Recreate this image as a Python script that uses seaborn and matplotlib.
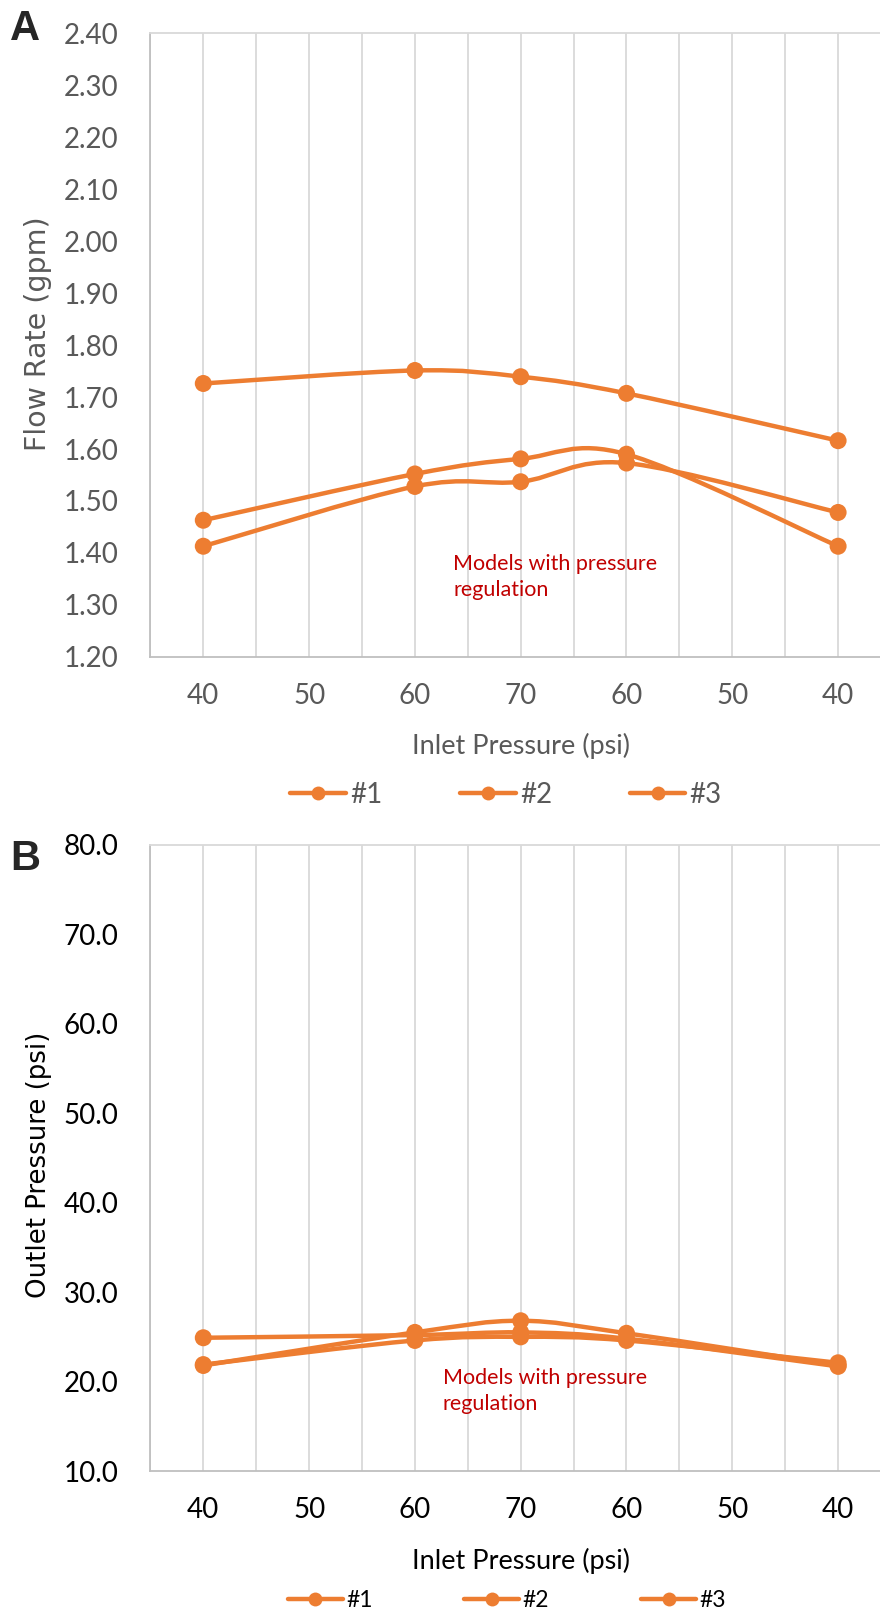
import numpy as np
import pandas as pd
import matplotlib
matplotlib.use("Agg")
import matplotlib.pyplot as plt
from matplotlib.path import Path
from matplotlib.patches import PathPatch
from matplotlib.lines import Line2D
import seaborn as sns

# category axis (inlet pressure up then down)
x_labels = ["40", "50", "60", "70", "60", "50", "40"]
# category index where readings were taken
point_cats = [0, 2, 3, 4, 6]
series_names = ["#1", "#2", "#3"]

# panel A: flow rate (gpm)
flow_1 = [1.726, 1.751, 1.739, 1.707, 1.616]
flow_2 = [1.463, 1.552, 1.581, 1.590, 1.413]
flow_3 = [1.413, 1.528, 1.537, 1.573, 1.478]

# panel B: outlet pressure (psi)
outlet_1 = [24.9, 25.2, 25.5, 24.8, 21.7]
outlet_2 = [21.8, 25.5, 26.8, 25.4, 21.8]
outlet_3 = [21.9, 24.6, 25.0, 24.6, 22.1]

ORANGE = "#ED7D31"
NOTE_RED = "#C00000"


def make_df(values):
    rows = []
    for name, vals in zip(series_names, values):
        for c, v in zip(point_cats, vals):
            rows.append({"series": name, "cat": c, "value": v})
    return pd.DataFrame(rows)


def smooth_path(xs, ys):
    # excel-like smoothed line: cubic bezier through the points
    pts = np.column_stack([xs, ys]).astype(float)
    n = len(pts)
    verts = [pts[0]]
    codes = [Path.MOVETO]
    for i in range(n - 1):
        p0 = pts[i - 1] if i > 0 else pts[i]
        p1 = pts[i]
        p2 = pts[i + 1]
        p3 = pts[i + 2] if i + 2 < n else pts[i + 1]
        c1 = p1 + (p2 - p0) / 6.0
        c2 = p2 - (p3 - p1) / 6.0
        verts += [c1, c2, p2]
        codes += [Path.CURVE4] * 3
    return Path(verts, codes)


def draw_panel(ax, df, ylim, yticks, fmt, color, ylabel, ylabel_size,
               ylabel_pos, note_x):
    for name in series_names:
        d = df[df["series"] == name]
        patch = PathPatch(smooth_path(d["cat"], d["value"]), fill=False,
                          edgecolor=ORANGE, lw=3.2, capstyle="round",
                          joinstyle="round", zorder=3)
        ax.add_patch(patch)
    sns.scatterplot(data=df, x="cat", y="value", hue="series",
                    palette=[ORANGE] * 3, s=150, linewidth=0,
                    legend=False, ax=ax, zorder=4)

    ax.set_xlim(-0.5, 6.5)
    ax.set_ylim(*ylim)
    ax.set_yticks(yticks)
    ax.set_yticklabels([fmt.format(t) for t in yticks])
    ax.set_xticks(range(len(x_labels)))
    ax.set_xticklabels(x_labels)
    ax.set_xticks(np.arange(-0.5, 7, 1.0), minor=True)
    ax.grid(True, axis="x", which="both", color="#D9D9D9", lw=1.3, zorder=0)
    ax.grid(False, axis="y")
    ax.tick_params(axis="both", which="both", length=0, colors=color,
                   labelsize=20)
    ax.tick_params(axis="x", pad=19)
    ax.tick_params(axis="y", pad=23)
    for side in ["left", "bottom"]:
        ax.spines[side].set_color("#BFBFBF")
        ax.spines[side].set_linewidth(1.3)
    ax.spines["top"].set_color("#D9D9D9")
    ax.spines["top"].set_linewidth(1.3)
    ax.spines["right"].set_visible(False)

    ax.set_xlabel("Inlet Pressure (psi)", fontsize=19.5, color=color,
                  family="Lato", va="center")
    ax.xaxis.set_label_coords(0.5, -0.143)
    ax.set_ylabel(ylabel, fontsize=ylabel_size, color=color,
                  family="DejaVu Sans", ha="center", va="center")
    ax.yaxis.set_label_coords(*ylabel_pos)
    ax.text(note_x, 0.128, "Models with pressure\nregulation", transform=ax.transAxes,
            color=NOTE_RED, fontsize=15.5, family="Lato", va="center",
            ha="left", linespacing=1.35)


sns.set_theme(style="white")
plt.rcParams["font.family"] = ["Lato", "DejaVu Sans"]

fig = plt.figure(figsize=(8.8, 16.19), dpi=100)
ax_a = fig.add_axes([0.1709, 0.5942, 0.8416, 0.3854])
ax_b = fig.add_axes([0.1709, 0.0914, 0.8416, 0.3867])

draw_panel(ax_a, make_df([flow_1, flow_2, flow_3]), (1.2, 2.4),
           np.round(np.arange(1.2, 2.41, 0.1), 2), "{:.2f}", "#595959",
           "Flow Rate (gpm)", 20.5, (-0.152, 0.518), 0.409)
draw_panel(ax_b, make_df([outlet_1, outlet_2, outlet_3]), (10, 80),
           np.arange(10, 81, 10), "{:.1f}", "black",
           "Outlet Pressure (psi)", 18.7, (-0.150, 0.489), 0.395)

handles = [Line2D([], [], color=ORANGE, lw=3.2, marker="o", markersize=10,
                  markeredgewidth=0) for _ in series_names]
fig.legend(handles, series_names, loc="center", bbox_to_anchor=(0.575, 0.509),
           ncol=3, frameon=False, fontsize=20, labelcolor="#595959",
           handlelength=2.0, handletextpad=0.15, columnspacing=2.8)
fig.legend(handles, series_names, loc="center", bbox_to_anchor=(0.576, 0.0115),
           ncol=3, frameon=False, fontsize=16.5, labelcolor="black",
           handlelength=2.4, handletextpad=0.15, columnspacing=4.0)

fig.text(10 / 880, 1 - 40 / 1619, "A", fontsize=30, fontweight="bold",
         family="Liberation Sans", va="baseline")
fig.text(10 / 880, 1 - 870 / 1619, "B", fontsize=30, fontweight="bold",
         family="Liberation Sans", va="baseline")

fig.savefig("out.png", dpi=100)
